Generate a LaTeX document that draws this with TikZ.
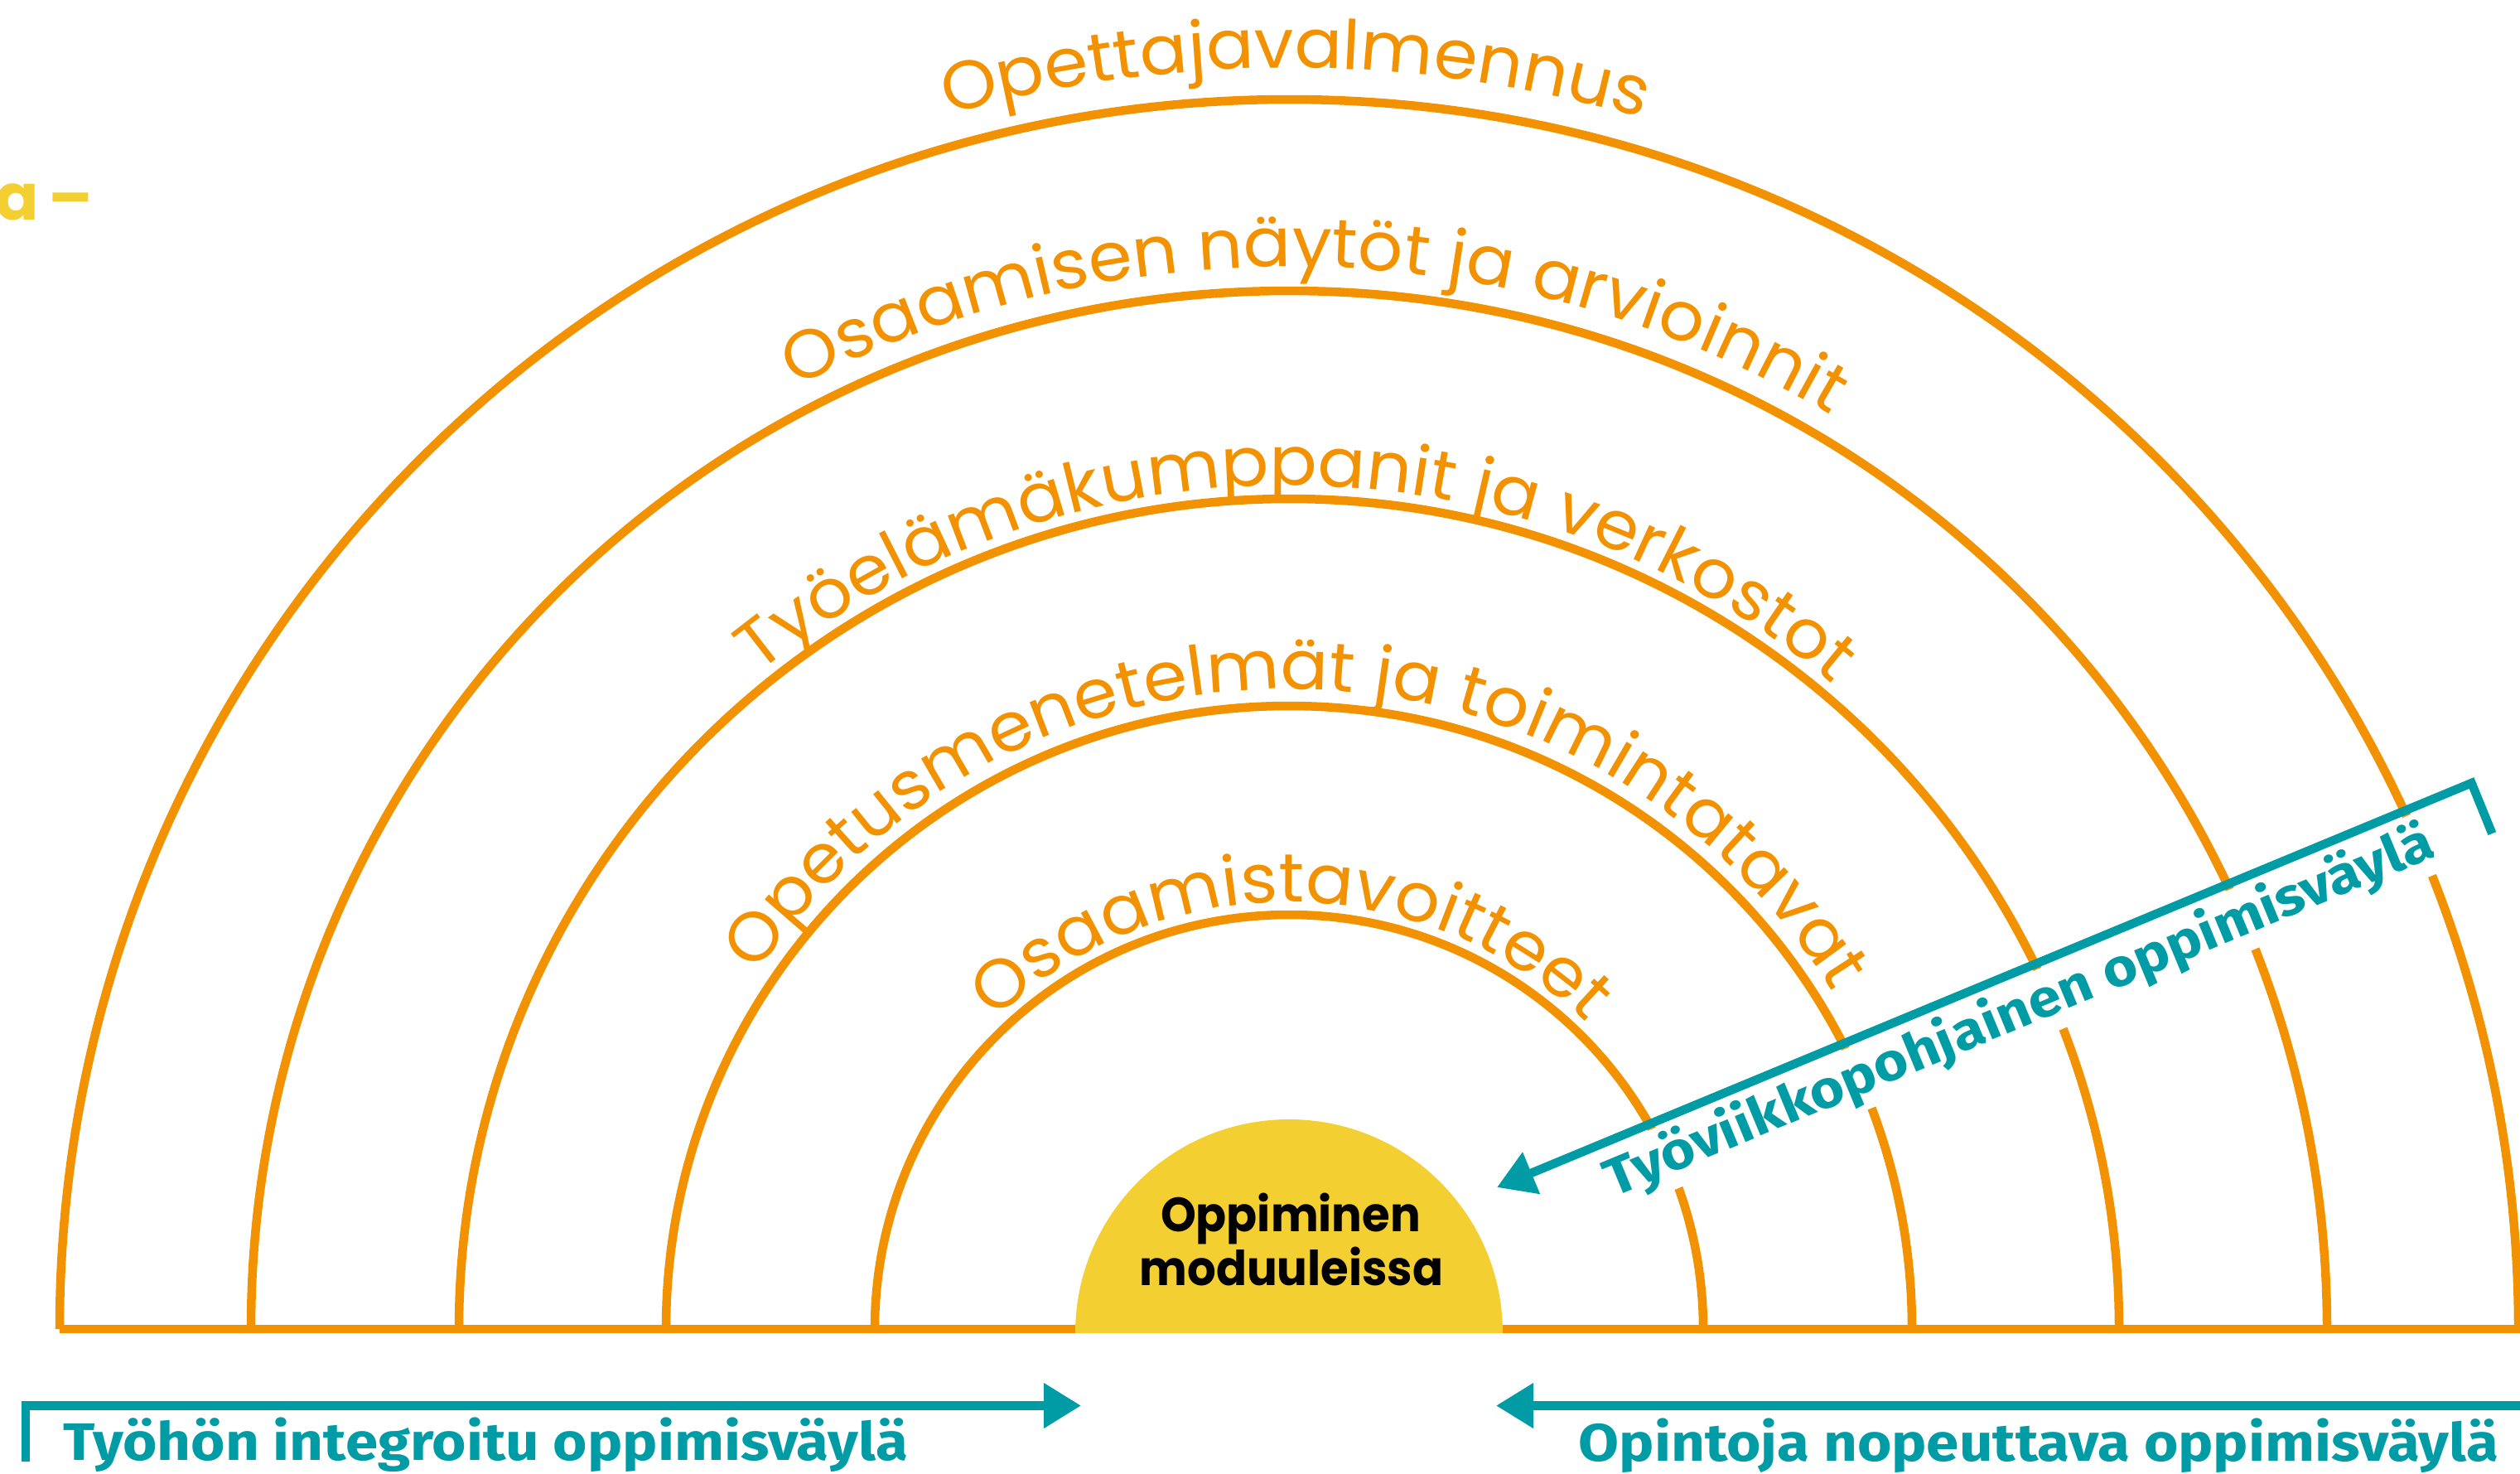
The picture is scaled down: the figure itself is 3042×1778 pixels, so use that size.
\documentclass[tikz,border=0pt]{standalone}
\usepackage{fontspec}
\usetikzlibrary{arrows.meta,decorations.text}
\newfontfamily\popfont{Poppins}
\newfontfamily\popwide[FakeStretch=1.03]{Poppins}
\newfontfamily\popnarrow[FakeStretch=0.94]{Poppins}
\newfontfamily\firafont[FakeStretch=1.115]{Fira Sans}
\definecolor{arcorange}{RGB}{243,146,0}
\definecolor{pathteal}{RGB}{0,156,166}
\definecolor{sunyellow}{RGB}{244,207,49}
\newcommand{\arcfontcmd}{\popwide\fontsize{23.5pt}{28pt}\selectfont}
\begin{document}
\begin{tikzpicture}[x=0.01cm,y=0.01cm,
  arcline/.style={draw=arcorange, line width=0.105cm},
  arclabel/.style={decorate, decoration={text along path, text align=center,
      text color=arcorange, text={|\arcfontcmd|#1}}},
  pathline/.style={draw=pathteal, line width=0.105cm, line join=miter, line cap=butt},
  pathtip/.style={-{Triangle[length=0.45cm,width=0.52cm]}},
  pathlabel/.style={text=pathteal, inner sep=0pt,
      font=\firafont\bfseries\fontsize{18.1pt}{22pt}\selectfont},
  modtext/.style={text=black, inner sep=0pt,
      font=\popnarrow\bfseries\fontsize{16.5pt}{20pt}\selectfont}]
\useasboundingbox (0,0) rectangle (3042,-1778);
\begin{scope}
\clip (0,0) rectangle (3042,-1778);
\coordinate (c) at (1556,-1604);
% arcs
\foreach \r in {1484,1253,1002,752,500}{
  \draw[arcline] (c) ++(180:\r) arc[start angle=180, end angle=0, radius=\r];
}
\coordinate (baseL) at (72,-1604);
\coordinate (baseR) at (3060,-1604);
\draw[arcline] (baseL) -- (baseR);
% arc labels
\path[arclabel={Opettajavalmennus}] (c) ++(179.7:1522) arc[start angle=179.7, end angle=-0.3, radius=1522];
\path[arclabel={Osaamisen näytöt ja arvioinnit}] (c) ++(178.5:1282) arc[start angle=178.5, end angle=-1.5, radius=1282];
\path[arclabel={Työelämäkumppanit ja verkostot}] (c) ++(179.4:1018) arc[start angle=179.4, end angle=-0.6, radius=1018];
\path[arclabel={Opetusmenetelmät ja toimintatavat}] (c) ++(179:772) arc[start angle=179, end angle=-1, radius=772];
\path[arclabel={Osaamistavoitteet}] (c) ++(179.7:515) arc[start angle=179.7, end angle=-0.3, radius=515];
% yellow centre
\fill[sunyellow] (1298,-1609) arc[start angle=180, end angle=0, radius=258] -- cycle;
\node[modtext, anchor=base] (mod1) at (1558,-1486) {Oppiminen};
\node[modtext, anchor=base] (mod2) at (1559,-1551) {moduuleissa};
% cut-off yellow text
\node[anchor=base east, inner sep=0pt, text=sunyellow,
  font=\popfont\bfseries\fontsize{22pt}{26pt}\selectfont] (cut) at (113,-265) {sa\hspace{0.15em}–};
% diagonal path label with knockout
\node[pathlabel, fill=white, rotate=22.52, anchor=base, text height=0.58cm,
  text depth=0.2cm, inner xsep=0.1cm] (lblD) at (2444.9,-1238.7) {Työviikkopohjainen oppimisväylä};
% teal paths
\coordinate (dtick) at (3008.3,-1006);
\coordinate (dcorner) at (2983.5,-945);
\coordinate (dtip) at (1807,-1433);
\draw[pathline, pathtip] (dtick) -- (dcorner) -- (dtip);
\coordinate (ltick) at (31,-1764);
\coordinate (lcorner) at (31,-1696.5);
\coordinate (ltip) at (1305,-1696.5);
\draw[pathline, pathtip] (ltick) -- (lcorner) -- (ltip);
\coordinate (rstart) at (3060,-1696.5);
\coordinate (rtip) at (1806,-1696.5);
\draw[pathline, pathtip] (rstart) -- (rtip);
\node[pathlabel, anchor=base west] (lblL) at (76,-1762) {Työhön integroitu oppimisväylä};
\node[pathlabel, anchor=base east] (lblR) at (3017,-1763) {Opintoja nopeuttava oppimisväylä};
\end{scope}
\end{tikzpicture}
\end{document}
